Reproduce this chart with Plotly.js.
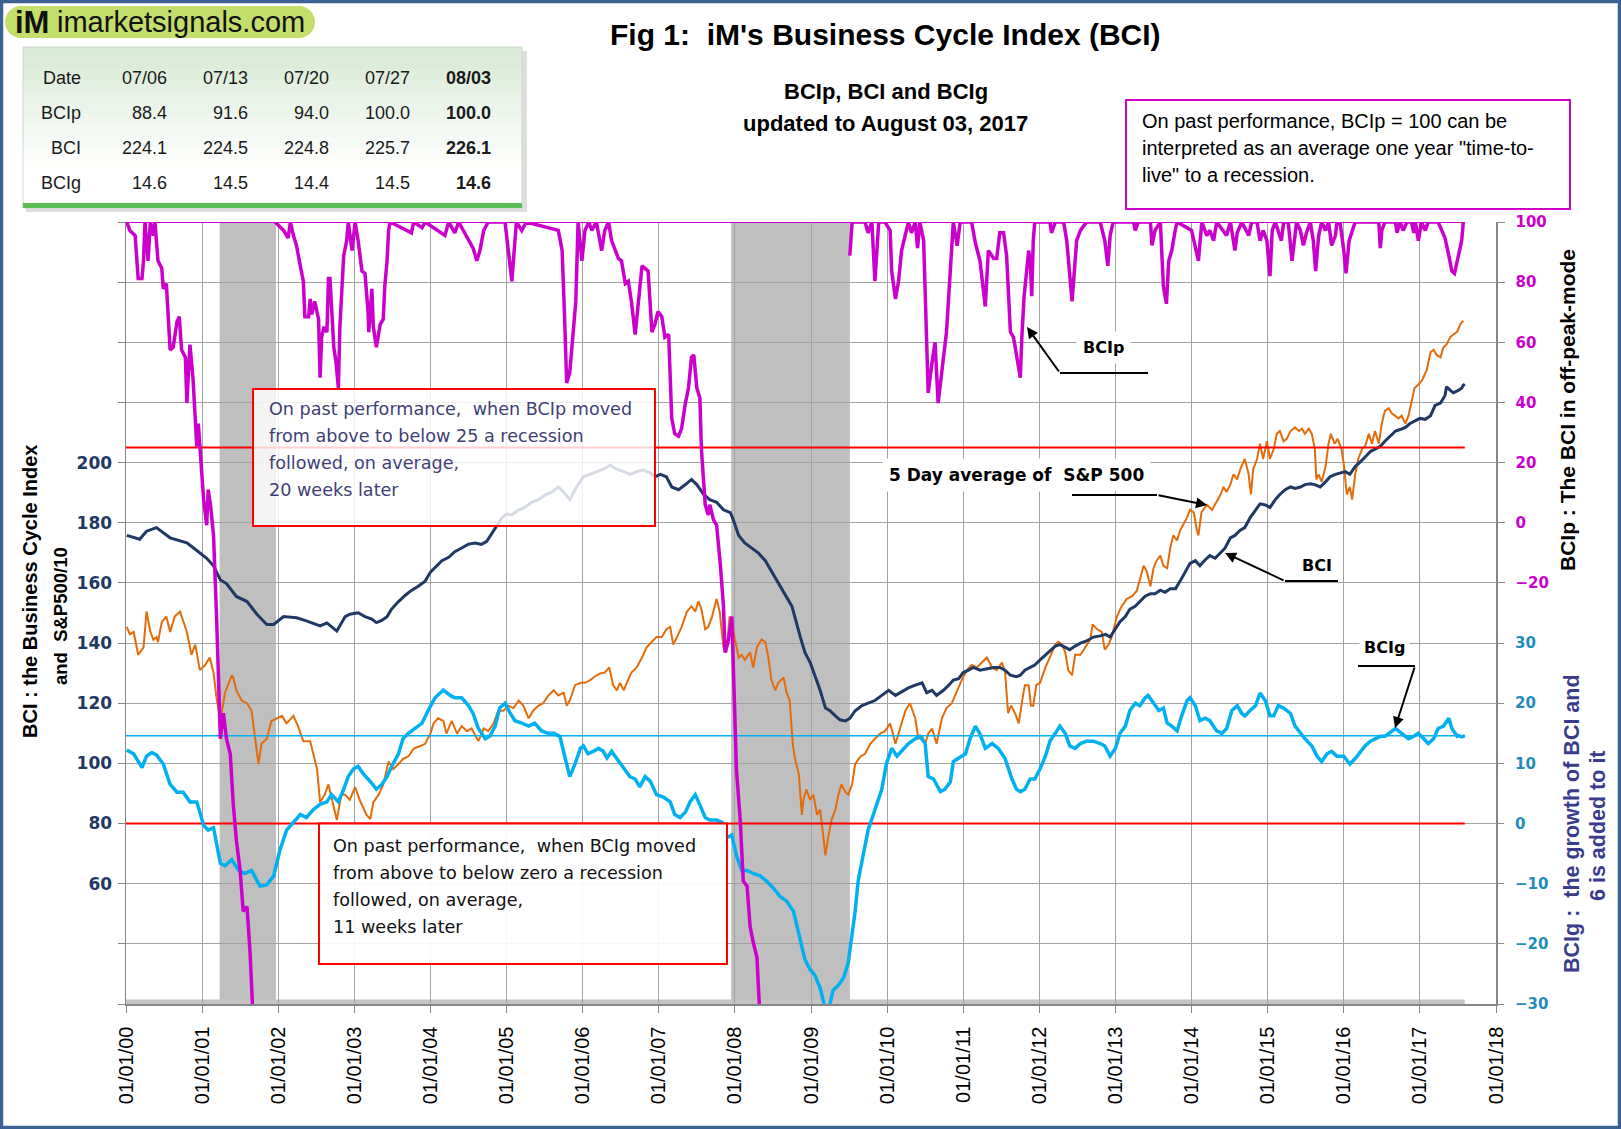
<!DOCTYPE html>
<html>
<head>
<meta charset="utf-8">
<script src="https://cdn.plot.ly/plotly-3.0.1.min.js"></script>
<style>
html,body{margin:0;padding:0;background:#ffffff;}
#chart{width:1621px;height:1129px;}
</style>
</head>
<body>
<div id="chart"></div>
<script>
// ---------------- DATA (decimal years) ----------------
const bciX = [
2000.01,2000.18,2000.27,2000.40,2000.58,2000.80,2000.93,2001.06,2001.15,2001.24,2001.32,2001.45,2001.59,2001.72,2001.85,2001.94,2002.07,2002.24,2002.37,2002.55,2002.64,2002.77,
2002.88,2002.94,2003.05,2003.14,2003.23,2003.29,2003.36,2003.43,2003.49,2003.58,2003.67,2003.75,2003.84,2003.93,2004.00,2004.06,2004.15,2004.24,2004.32,2004.41,2004.50,2004.59,2004.67,2004.74,2004.81,2004.87,2004.94,2005.00,2005.07,2005.16,2005.24,2005.33,2005.42,2005.51,2005.59,2005.68,2005.75,
2005.83,2005.92,2006.01,2006.10,2006.18,2006.27,2006.36,2006.45,2006.54,2006.62,2006.71,2006.80,2006.89,2006.95,2007.02,2007.10,2007.17,2007.26,2007.35,2007.43,2007.50,2007.59,2007.67,2007.76,2007.85,2007.94,2007.98,2008.05,2008.13,2008.22,2008.31,2008.40,2008.48,2008.57,2008.66,2008.75,
2008.86,2008.92,2008.99,2009.05,2009.12,2009.19,2009.25,2009.32,2009.38,2009.45,2009.51,2009.58,2009.67,2009.75,2009.84,2009.93,2010.02,2010.11,2010.19,2010.28,2010.37,2010.46,2010.52,2010.59,2010.65,2010.74,2010.81,2010.87,2010.94,2011.00,2011.07,2011.13,2011.22,2011.31,2011.40,2011.48,2011.55,2011.62,2011.70,
2011.75,2011.81,2011.88,2011.94,2012.01,2012.08,2012.14,2012.21,2012.27,2012.34,2012.40,2012.47,2012.54,2012.62,2012.71,2012.80,2012.87,2012.93,2013.00,2013.06,2013.13,2013.19,2013.26,2013.32,2013.39,2013.46,2013.52,2013.59,2013.65,2013.72,2013.79,2013.85,2013.92,2013.98,2014.05,2014.11,2014.18,2014.24,2014.31,2014.38,2014.44,2014.51,2014.57,2014.64,
2014.70,2014.77,2014.84,2014.90,2014.97,2015.03,2015.10,2015.16,2015.23,2015.30,2015.36,2015.43,2015.49,2015.56,2015.62,2015.69,2015.76,2015.82,2015.89,2015.95,2016.02,2016.08,2016.15,2016.22,2016.28,2016.35,2016.41,2016.48,2016.54,2016.61,2016.68,2016.74,2016.81,2016.87,2016.94,2017.00,2017.07,2017.14,2017.20,2017.27,2017.33,2017.35,2017.40,2017.44,2017.51,2017.53,2017.55,2017.57,2017.59];
const bciY = [
175.8,174.5,177.2,178.4,175.0,173.3,170.8,168.2,165.7,161.0,159.8,155.5,153.8,149.6,146.2,146.2,148.8,148.4,147.4,145.7,146.7,144.0,
148.8,149.6,150.1,148.8,148.0,146.8,147.5,148.8,151.3,153.8,155.9,157.5,158.9,160.6,163.6,165.2,167.4,168.5,170.4,171.6,172.9,173.3,172.8,173.8,176.7,179.2,181.7,182.9,182.6,184.3,185.1,186.8,187.7,189.3,190.2,191.9,190.2,
187.7,191.9,195.3,196.1,197.0,197.8,199.1,197.8,197.0,196.1,197.0,197.5,196.5,195.3,196.1,195.3,191.9,191.0,192.7,194.4,192.7,189.4,187.7,186.8,184.3,183.4,180.9,175.8,173.3,171.6,169.9,167.4,164.0,159.8,156.4,152.2,
142.0,136.9,133.5,129.3,124.3,118.4,117.5,115.8,114.5,114.1,115.0,117.5,119.2,120.0,120.9,122.6,124.3,122.6,123.8,125.1,126.0,126.8,123.5,124.3,122.6,124.3,126.0,127.7,128.2,130.2,131.0,131.9,131.0,131.5,131.9,131.9,131.0,129.3,128.8,
129.3,131.0,131.9,132.7,134.4,136.1,137.3,139.0,139.5,138.6,137.8,139.0,140.0,140.7,142.0,142.4,142.9,142.0,144.6,147.1,148.8,151.3,152.2,153.9,155.6,156.4,156.4,157.6,156.9,158.1,158.1,160.6,164.0,166.5,167.4,165.7,167.7,169.1,168.2,169.9,171.6,175.0,175.8,177.5,
178.4,181.7,184.3,186.3,185.9,185.1,187.7,189.4,191.0,191.9,191.4,191.9,192.7,193.0,192.7,191.9,193.6,195.3,196.1,196.5,197.0,196.1,198.7,200.3,202.0,203.7,204.5,205.4,207.1,208.8,210.5,211.0,211.7,213.0,213.9,214.7,214.4,215.6,219.0,219.8,222.3,225.2,224.0,223.2,224.1,224.5,224.8,225.7,226.1];

const spX = [
2000.01,2000.05,2000.10,2000.16,2000.23,2000.27,2000.32,2000.36,2000.40,2000.42,2000.47,2000.53,2000.58,2000.64,2000.71,2000.80,2000.86,2000.91,2000.97,2001.04,2001.10,2001.15,2001.19,2001.24,2001.30,2001.39,2001.41,2001.45,2001.52,2001.59,2001.65,2001.70,2001.74,2001.78,2001.85,2001.91,2001.98,2002.05,2002.11,2002.20,2002.26,2002.33,2002.42,2002.51,2002.55,2002.61,2002.66,2002.73,2002.77,2002.83,
2002.88,2002.94,2003.01,2003.07,2003.12,2003.16,2003.21,2003.25,2003.32,2003.38,2003.45,2003.51,2003.58,2003.64,2003.71,2003.78,2003.86,2003.93,2004.00,2004.04,2004.10,2004.17,2004.21,2004.28,2004.35,2004.41,2004.48,2004.54,2004.63,2004.70,2004.76,2004.83,2004.89,2004.96,2005.02,2005.09,2005.16,2005.22,2005.29,2005.35,2005.42,2005.48,2005.55,2005.62,2005.68,2005.75,2005.79,
2005.83,2005.90,2005.97,2006.03,2006.10,2006.16,2006.23,2006.29,2006.35,2006.40,2006.45,2006.49,2006.54,2006.58,2006.64,2006.71,2006.78,2006.84,2006.91,2006.97,2007.04,2007.10,2007.15,2007.19,2007.24,2007.30,2007.37,2007.43,2007.48,2007.52,2007.56,2007.61,2007.65,2007.70,2007.76,2007.80,2007.85,2007.89,2007.93,2007.96,2008.00,2008.05,2008.09,2008.13,2008.20,2008.24,2008.29,2008.35,2008.40,2008.44,2008.48,2008.53,2008.57,2008.64,2008.68,2008.72,2008.76,
2008.79,2008.84,2008.88,2008.90,2008.94,2008.99,2009.03,2009.08,2009.12,2009.16,2009.19,2009.23,2009.27,2009.32,2009.36,2009.40,2009.45,2009.49,2009.54,2009.58,2009.65,2009.71,2009.78,2009.84,2009.91,2009.97,2010.04,2010.11,2010.17,2010.24,2010.30,2010.37,2010.41,2010.46,2010.50,2010.54,2010.59,2010.65,2010.72,2010.78,2010.85,2010.92,2010.98,2011.05,2011.11,2011.18,2011.24,2011.31,2011.38,2011.44,2011.51,2011.55,2011.59,2011.63,2011.68,2011.73,
2011.78,2011.81,2011.86,2011.89,2011.92,2011.96,2012.01,2012.08,2012.14,2012.21,2012.25,2012.30,2012.34,2012.38,2012.43,2012.47,2012.54,2012.60,2012.67,2012.70,2012.76,2012.82,2012.86,2012.91,2012.95,2013.02,2013.08,2013.15,2013.22,2013.28,2013.33,2013.37,2013.41,2013.46,2013.50,2013.54,2013.59,2013.63,2013.68,2013.72,2013.76,2013.81,2013.85,2013.89,2013.94,2013.98,2014.03,2014.07,2014.09,2014.13,2014.20,2014.27,2014.33,2014.38,2014.42,2014.46,2014.51,2014.55,2014.60,2014.64,
2014.70,2014.75,2014.78,2014.81,2014.86,2014.90,2014.94,2014.99,2015.03,2015.08,2015.12,2015.16,2015.21,2015.25,2015.30,2015.36,2015.41,2015.45,2015.49,2015.54,2015.58,2015.62,2015.64,2015.67,2015.71,2015.76,2015.80,2015.83,2015.88,2015.92,2015.97,2016.00,2016.04,2016.08,2016.11,2016.15,2016.19,2016.24,2016.28,2016.33,2016.37,2016.41,2016.46,2016.50,2016.54,2016.59,2016.63,2016.68,2016.72,2016.76,2016.81,2016.85,2016.89,2016.93,2016.97,2017.03,2017.09,2017.14,2017.18,2017.22,2017.27,2017.31,2017.35,2017.40,2017.44,2017.49,2017.53,2017.57];
const spY = [
145.4,142.9,143.7,136.1,138.6,150.5,143.7,141.1,142.0,140.3,147.0,148.8,143.7,148.8,150.5,143.7,136.1,139.5,131.0,132.7,135.2,130.2,121.7,114.1,123.4,129.3,128.5,124.3,120.9,120.0,117.5,108.2,99.8,106.5,108.2,114.1,115.0,115.8,113.3,115.8,112.4,107.4,107.4,98.1,87.1,89.6,93.0,85.4,81.2,89.6,
89.6,87.9,92.1,87.9,85.4,82.9,81.5,87.1,89.6,93.0,100.6,98.1,99.8,101.5,102.3,104.9,105.7,106.5,109.9,113.3,115.0,114.1,109.9,114.1,109.9,112.4,110.7,111.6,107.4,111.6,110.7,113.3,117.5,117.5,119.2,118.4,120.9,119.2,115.0,117.5,119.2,120.0,122.6,124.3,122.6,123.5,119.2,
120.9,126.0,126.8,126.8,127.7,128.9,129.9,130.2,131.9,126.0,124.3,126.8,124.3,126.8,130.2,131.9,135.2,138.6,140.3,142.0,142.0,144.6,145.4,139.5,142.0,145.4,150.5,152.2,150.5,153.9,151.3,144.6,145.4,148.8,154.7,150.5,138.6,136.9,148.8,148.0,141.2,135.2,136.1,134.4,136.9,131.9,138.6,141.2,140.3,135.2,127.7,124.3,126.8,128.5,123.5,120.9,106.5,
101.5,96.4,82.9,87.9,91.3,87.9,89.6,82.9,84.6,76.1,69.4,76.1,81.2,84.6,89.6,93.0,90.5,89.6,93.0,99.8,102.3,103.2,106.5,108.2,109.9,110.7,113.3,106.5,111.6,117.5,120.0,115.0,108.2,109.1,106.5,109.9,111.6,106.5,115.0,118.4,120.0,124.3,127.7,131.0,132.7,131.9,133.5,135.2,131.9,131.0,133.5,130.2,116.7,119.2,116.7,113.3,
121.7,126.0,126.0,119.2,119.2,126.0,126.8,131.9,135.3,139.5,140.4,139.5,137.0,131.0,129.3,136.1,136.1,138.6,141.2,146.2,144.6,143.7,137.8,139.5,142.0,148.8,152.2,154.7,155.6,157.3,162.3,165.7,164.0,158.9,164.9,167.4,169.1,165.7,164.9,171.6,175.8,174.1,177.5,179.2,181.7,184.3,183.4,177.5,175.8,183.4,186.0,184.3,186.8,189.3,191.9,190.2,192.7,196.1,194.4,197.8,
201.2,196.1,189.4,197.8,201.2,206.3,201.2,207.1,201.2,204.5,209.6,210.5,207.1,207.9,210.5,211.7,210.5,211.3,209.6,211.3,209.6,204.5,194.4,196.1,193.6,198.6,206.3,209.6,206.3,207.9,204.5,199.5,189.4,191.9,187.7,196.1,201.2,204.5,205.4,209.6,206.3,210.5,206.3,213.0,217.2,218.1,216.4,215.6,214.7,215.6,213.0,215.6,220.6,224.8,225.7,227.4,230.8,236.7,237.5,235.8,235.0,238.4,239.2,241.8,242.6,243.5,246.0,247.2];

const bcigX = [
2000.01,2000.10,2000.21,2000.27,2000.34,2000.40,2000.49,2000.58,2000.67,2000.75,2000.84,2000.93,2001.02,2001.08,2001.15,2001.24,2001.30,2001.39,2001.48,2001.56,2001.65,2001.76,2001.85,2001.94,2002.02,2002.11,2002.20,2002.29,2002.37,2002.46,2002.55,2002.64,2002.70,2002.79,2002.86,
2002.92,2002.99,2003.05,2003.12,2003.21,2003.29,2003.36,2003.43,2003.49,2003.58,2003.64,2003.71,2003.80,2003.89,2003.97,2004.06,2004.17,2004.26,2004.32,2004.41,2004.50,2004.56,2004.63,2004.72,2004.78,2004.85,2004.91,2004.98,2005.05,2005.11,2005.20,2005.29,2005.37,2005.46,2005.55,2005.62,2005.70,2005.77,2005.83,
2005.90,2005.97,2006.01,2006.07,2006.14,2006.21,2006.27,2006.32,2006.38,2006.45,2006.54,2006.62,2006.69,2006.75,2006.82,2006.89,2006.97,2007.06,2007.15,2007.21,2007.28,2007.35,2007.41,2007.48,2007.54,2007.61,2007.67,2007.76,2007.83,2007.89,2007.96,2008.02,2008.09,2008.16,2008.24,2008.33,2008.42,2008.51,2008.59,2008.68,2008.77,
2008.86,2008.92,2008.99,2009.05,2009.12,2009.19,2009.23,2009.29,2009.36,2009.43,2009.49,2009.54,2009.58,2009.62,2009.69,2009.75,2009.84,2009.93,2009.99,2010.06,2010.13,2010.19,2010.28,2010.37,2010.43,2010.50,2010.54,2010.61,2010.70,2010.76,2010.83,2010.87,2010.94,2011.03,2011.09,2011.16,2011.22,2011.29,2011.38,2011.46,2011.55,2011.64,2011.70,
2011.75,2011.81,2011.88,2011.94,2012.01,2012.08,2012.14,2012.21,2012.27,2012.34,2012.40,2012.47,2012.54,2012.62,2012.71,2012.80,2012.86,2012.93,2013.00,2013.06,2013.13,2013.19,2013.26,2013.32,2013.39,2013.43,2013.50,2013.57,2013.63,2013.68,2013.74,2013.81,2013.87,2013.94,2013.98,2014.05,2014.11,2014.18,2014.24,2014.33,2014.40,2014.46,2014.53,2014.60,2014.66,
2014.70,2014.77,2014.84,2014.90,2014.97,2015.03,2015.08,2015.14,2015.21,2015.25,2015.30,2015.36,2015.43,2015.49,2015.58,2015.65,2015.71,2015.78,2015.84,2015.91,2016.00,2016.08,2016.15,2016.22,2016.28,2016.35,2016.41,2016.48,2016.54,2016.61,2016.68,2016.76,2016.85,2016.92,2016.98,2017.05,2017.11,2017.18,2017.24,2017.31,2017.38,2017.42,2017.49,2017.51,2017.53,2017.55,2017.57,2017.59];
const bcigY = [
12.2,11.6,9.3,11.2,11.8,11.4,9.9,6.5,5.2,5.2,3.6,3.6,-0.3,-1.1,-0.7,-6.6,-7.0,-6.0,-7.8,-8.3,-7.8,-10.4,-10.2,-8.7,-4.5,-1.1,0.2,1.5,1.0,2.3,3.2,3.6,4.8,3.6,5.7,
7.8,9.1,9.5,8.2,7.0,5.7,6.5,7.8,9.5,11.6,14.1,15.0,15.8,16.7,18.8,20.9,22.2,21.3,20.9,20.9,19.6,18.3,15.8,14.1,14.5,16.2,19.2,20.0,18.3,17.1,16.7,16.2,16.7,15.4,15.0,15.0,14.5,10.8,7.8,
9.9,12.5,12.9,11.6,12.0,12.5,12.0,10.9,12.0,10.8,9.1,7.8,7.4,6.1,7.8,7.0,4.8,4.4,3.6,1.5,1.0,1.9,3.6,4.8,3.1,1.0,0.6,0.6,0.2,-2.4,-1.9,-5.3,-7.8,-7.8,-8.3,-8.7,-9.6,-10.8,-12.1,-12.9,-14.6,
-19.7,-22.6,-24.3,-25.2,-27.3,-31,-31,-27.7,-26.9,-25.6,-23.1,-18.8,-14.6,-9.5,-5.3,-1.1,2.3,5.7,9.9,12.5,11.2,12.0,13.3,14.1,14.5,13.3,7.8,7.4,5.3,5.7,6.9,10.3,10.8,11.6,14.1,16.2,14.9,12.5,13.3,12.5,10.8,7.4,5.7,
5.3,5.7,7.4,7.4,9.1,11.2,13.7,15.0,16.2,15.0,12.9,12.5,13.3,13.7,13.7,13.3,12.9,11.2,12.5,15.0,16.2,18.8,20.0,19.6,20.9,21.3,20.0,18.8,19.2,16.7,16.2,15.4,17.9,20.4,20.9,19.6,17.1,17.5,17.1,15.4,15.0,15.8,18.8,19.6,18.3,
17.9,18.8,19.6,21.7,20.4,17.9,17.9,19.6,19.2,18.8,18.3,16.2,15.0,14.1,12.9,11.2,10.3,11.6,12.0,11.2,11.2,9.9,10.8,12.0,12.9,13.7,14.1,14.5,14.5,15.1,15.8,15.0,14.1,14.5,15.0,14.1,13.3,14.1,15.8,16.2,17.5,15.8,14.5,14.6,14.5,14.4,14.5,14.6];

const bcipX = [
2000.01,2000.05,2000.12,2000.16,2000.21,2000.23,2000.25,2000.29,2000.32,2000.36,2000.38,2000.42,2000.47,2000.49,2000.53,2000.58,2000.62,2000.67,2000.70,2000.73,2000.78,2000.80,2000.82,2000.84,2000.88,2000.93,2000.95,2000.97,2001.02,2001.06,2001.08,2001.11,2001.15,2001.19,2001.24,2001.28,2001.32,2001.37,2001.41,2001.45,2001.50,2001.54,2001.59,2001.63,2001.67,2001.80,
2001.96,2002.07,2002.13,2002.16,2002.20,2002.24,2002.29,2002.33,2002.35,2002.40,2002.42,2002.44,2002.48,2002.53,2002.55,2002.57,2002.60,2002.64,2002.66,2002.68,2002.73,2002.76,2002.79,2002.81,2002.86,2002.90,
2002.92,2002.97,2003.01,2003.05,2003.10,2003.14,2003.18,2003.19,2003.23,2003.25,2003.29,2003.34,2003.38,2003.40,2003.43,2003.45,2003.47,2003.75,2003.78,2003.89,2003.93,2004.19,2004.24,2004.32,2004.37,2004.56,2004.61,2004.65,2004.70,2004.76,2004.98,2005.02,2005.07,2005.11,2005.13,2005.20,2005.26,2005.68,2005.73,2005.76,2005.79,
2005.83,2005.88,2005.91,2005.94,2005.99,2006.03,2006.08,2006.12,2006.18,2006.25,2006.29,2006.34,2006.38,2006.43,2006.47,2006.51,2006.56,2006.60,2006.64,2006.69,2006.73,2006.78,2006.82,2006.86,2006.91,2006.95,2006.99,2007.04,2007.08,2007.13,2007.17,2007.21,2007.26,2007.30,2007.35,2007.39,2007.43,2007.46,2007.50,2007.54,2007.56,2007.61,2007.65,2007.67,2007.72,2007.76,2007.81,2007.85,2007.87,2007.91,2007.96,2007.98,2008.02,2008.07,2008.11,2008.16,2008.20,2008.24,2008.29,2008.33,2008.90,
2009.51,2009.54,2009.71,2009.75,2009.80,2009.84,2009.89,2009.97,2010.04,2010.06,2010.11,2010.15,2010.19,2010.24,2010.28,2010.32,2010.37,2010.40,2010.43,2010.48,2010.52,2010.54,2010.59,2010.63,2010.67,2010.70,2010.74,2010.78,2010.83,2010.87,2010.92,2010.96,2011.11,2011.16,2011.22,2011.29,2011.33,2011.40,2011.44,2011.48,2011.53,2011.57,2011.62,2011.66,2011.70,
2011.75,2011.77,2011.80,2011.84,2011.86,2011.88,2011.90,2011.92,2011.94,2012.14,2012.16,2012.21,2012.32,2012.36,2012.40,2012.43,2012.45,2012.49,2012.54,2012.62,2012.80,2012.86,2012.90,2012.93,2012.97,2013.24,2013.26,2013.30,2013.46,2013.48,2013.52,2013.59,2013.63,2013.67,2013.70,2013.74,2013.785,2013.81,2014.00,2014.05,2014.09,2014.135,2014.20,2014.24,2014.29,2014.33,2014.46,2014.51,2014.57,2014.60,2014.66,
2014.75,2014.79,2014.86,2014.90,2014.94,2014.99,2015.03,2015.06,2015.10,2015.14,2015.18,2015.21,2015.27,2015.32,2015.35,2015.38,2015.43,2015.47,2015.51,2015.56,2015.60,2015.63,2015.67,2015.71,2015.76,2015.80,2015.84,2015.89,2015.91,2015.95,2016.00,2016.03,2016.07,2016.11,2016.15,2016.46,2016.48,2016.50,2016.54,2016.68,2016.70,2016.74,2016.78,2016.83,2016.89,2016.92,2016.94,2016.98,2017.02,2017.07,2017.11,2017.24,2017.29,2017.33,2017.38,2017.42,2017.455,2017.495,2017.51,2017.53,2017.55,2017.57,2017.59];
const bcipY = [
100,97.2,95.5,81.2,81.2,87.1,100,87.1,100,95.5,100,87.1,84.6,77.8,79.5,57.5,58.4,66.8,68.5,57.5,55.0,39.8,49.9,59.2,48.2,25.4,33.0,24.6,7.7,-0.8,11.0,5.9,-4.2,-31.2,-71.8,-63.3,-71.8,-76.9,-93.8,-105.6,-115.7,-129.2,-127.6,-142.8,-165,null,
100,97.2,94.7,100,95.5,92.2,85.4,80.3,68.5,68.5,74.4,69.3,73.6,67.7,48.2,61.7,65.1,63.4,81.2,81.2,58.4,53.3,44.8,65.1,88.8,93.8,
100,90.5,100,93.8,83.7,82.9,70.2,63.4,77.8,65.1,58.4,66.0,67.7,78.6,87.1,97.2,100,96.4,100,98.1,100,95.5,100,96.4,100,91.3,87.1,90.5,97.2,100,100,90.5,80.3,93.8,100,97.2,100,97.2,90.5,70.2,46.5,
49.9,66.8,73.6,100,87.1,97.2,100,97.2,100,90.5,97.2,100,93.8,90.5,87.9,87.1,79.5,80.3,73.6,62.6,73.6,85.4,84.6,83.7,63.4,66.0,70.2,68.5,61.7,62.6,34.7,29.6,28.8,31.3,39.8,44.8,55.0,55.8,44.8,41.5,24.6,6.0,2.6,6.0,0.9,-0.8,-14.3,-27.8,-43.1,-39.7,-31.2,-48.1,-81.9,-98.8,-119.1,-120.8,-134.3,-139.4,-144.5,-165,null,
88.8,100,100,96.4,100,80.3,100,100,97.2,83.7,74.4,80.3,90.5,96.4,100,96.4,100,91.3,100,93.8,58.4,43.2,53.3,60.0,39.8,46.5,53.3,63.4,83.7,100,92.1,100,100,93.0,87.1,71.9,90.5,87.9,87.9,96.4,96.4,88.8,63.4,61.7,55.8,
48.2,61.7,75.3,85.4,90.5,87.1,75.3,93.8,100,100,96.4,100,100,93.8,82.0,73.6,80.3,93.8,97.2,100,100,93.8,85.4,95.5,100,100,97.2,100,100,92.2,97.2,100,78.6,72.8,87.1,90.5,97.2,100,97.2,92.2,87.1,100,95.5,97.2,93.8,100,95.5,100,90.5,96.4,100,
95.5,100,100,93.8,97.2,93.8,82.0,97.2,100,97.2,93.8,100,100,87.1,93.8,100,97.2,92.2,96.4,100,93.8,83.7,95.5,100,97.2,100,92.2,95.5,100,100,90.5,82.9,93.8,97.2,100,100,91.3,97.2,100,100,96.4,100,97.2,100,100,96.4,100,93.8,100,97.2,100,100,97.2,94.7,88.8,83.7,82.9,87.1,88.4,91.6,94.0,100,100];

// recessions (start / end, decimal years)
const recStart = [2001.23, 2007.95];
const recEnd   = [2001.97, 2009.51];

// signal / reference levels
const bcipSignal = 25;     // BCIp recession threshold
const bcipMax = 100;       // BCIp ceiling
const bcigSignal = 0;      // BCIg recession threshold

// table
const tableDates = ['07/06','07/13','07/20','07/27','08/03'];
const tableBCIp  = [88.4, 91.6, 94.0, 100.0, 100.0];
const tableBCI   = [224.1, 224.5, 224.8, 225.7, 226.1];
const tableBCIg  = [14.6, 14.5, 14.4, 14.5, 14.6];

// ticks
const xTickVals = [2000,2001,2002,2003,2004,2005,2006,2007,2008,2009,2010,2011,2012,2013,2014,2015,2016,2017,2018];
const xTickText = ['01/01/00','01/01/01','01/01/02','01/01/03','01/01/04','01/01/05','01/01/06','01/01/07','01/01/08','01/01/09','01/01/10','01/01/11','01/01/12','01/01/13','01/01/14','01/01/15','01/01/16','01/01/17','01/01/18'];
const bciTickVals = [20,40,60,80,100,120,140,160,180,200,220,240,260,280];
const bciTickText = ['','','60','80','100','120','140','160','180','200','','','',''];
const bcipTickVals = [-20,0,20,40,60,80,100];
const bcigTickVals = [-30,-20,-10,0,10,20,30];

// ---------------- LAYOUT HELPERS ----------------
const figW = 1621, figH = 1129;
const PL = 126, PR = 1496, PT = 222, PB = 1004;
const fx = p => (p - PL) / (PR - PL);
const fy = p => (PB - p) / (PB - PT);
const NARROW = "Liberation Sans Narrow, Arial Narrow, sans-serif";
const SANS = "Liberation Sans, Arial, sans-serif";
const DEJA = "DejaVu Sans, Verdana, sans-serif";

const xFirst = xTickVals[0];
const xLast = bciX[bciX.length - 1];
const bcigNow = bcigY[bcigY.length - 1];

function txt(x, y, text, opts) {
  return Object.assign({xref:'paper', yref:'paper', x: fx(x), y: fy(y), text: text,
    showarrow:false, xanchor:'center', yanchor:'middle'}, opts || {});
}
function rectPx(x0, y0, x1, y1, opts) {
  return Object.assign({type:'rect', xref:'paper', yref:'paper', x0: fx(x0), x1: fx(x1), y0: fy(y0), y1: fy(y1), layer:'above'}, opts || {});
}
function linePx(x0, y0, x1, y1, opts) {
  return Object.assign({type:'line', xref:'paper', yref:'paper', x0: fx(x0), x1: fx(x1), y0: fy(y0), y1: fy(y1), layer:'above',
    line:{color:'#000', width:2}}, opts || {});
}
function arrowPx(tipX, tipY, tailX, tailY) {
  return {xref:'paper', yref:'paper', x: fx(tipX), y: fy(tipY), ax: tailX - tipX, ay: tailY - tipY,
    text:'', showarrow:true, arrowhead:2, arrowsize:1.1, arrowwidth:2, arrowcolor:'#000', standoff:0};
}

// ---------------- TRACES ----------------
const traces = [
  {x: spX, y: spY, type:'scatter', mode:'lines', yaxis:'y', line:{color:'#E46C0A', width:2}},
  {x: bciX, y: bciY, type:'scatter', mode:'lines', yaxis:'y', line:{color:'#1F3864', width:3}},
  {x: [xFirst, xLast], y: [bcigSignal, bcigSignal], type:'scatter', mode:'lines', yaxis:'y2', line:{color:'#FF0000', width:2}},
  {x: [xFirst, xLast], y: [bcigNow, bcigNow], type:'scatter', mode:'lines', yaxis:'y2', line:{color:'#00B0F0', width:1.5}},
  {x: bcigX, y: bcigY, type:'scatter', mode:'lines', yaxis:'y2', line:{color:'#00B0F0', width:3.5}},
  {x: [xFirst, xLast], y: [bcipSignal, bcipSignal], type:'scatter', mode:'lines', yaxis:'y3', line:{color:'#FF0000', width:2}},
  {x: [xFirst, xLast], y: [bcipMax, bcipMax], type:'scatter', mode:'lines', yaxis:'y3', line:{color:'#CC00CC', width:2}},
  {x: bcipX, y: bcipY, type:'scatter', mode:'lines', yaxis:'y3', connectgaps:false, line:{color:'#CC00CC', width:3.5}}
];

// ---------------- SHAPES ----------------
const shapes = [];
for (let i = 0; i < recStart.length; i++) {
  shapes.push({type:'rect', xref:'x', yref:'paper', x0: recStart[i], x1: recEnd[i], y0: 0, y1: 1,
    fillcolor:'#BFBFBF', line:{width:0}, layer:'between'});
}
shapes.push({type:'line', xref:'x', yref:'paper', x0: xFirst, x1: xLast, y0: fy(1002), y1: fy(1002),
  line:{color:'#C4C4C4', width:5}, layer:'between'});

// annotation boxes
shapes.push(rectPx(253, 389, 655, 526, {fillcolor:'rgba(255,255,255,0.82)', line:{color:'#FF0000', width:2}}));
shapes.push(rectPx(319, 823.5, 727, 964, {fillcolor:'rgba(255,255,255,0.92)', line:{color:'#FF0000', width:2}}));
shapes.push(rectPx(1126, 100, 1570, 209, {fillcolor:'#FFFFFF', line:{color:'#CC00CC', width:2}}));

// table box with gradient
shapes.push(rectPx(26, 51, 527, 212, {fillcolor:'rgba(0,0,0,0.13)', line:{width:0}}));
const bands = 14;
const tTop = 47, tBot = 203;
for (let i = 0; i < bands; i++) {
  const t = i / (bands - 1);
  const g = Math.min(1, t * 1.25);
  const r = Math.round(217 + (255 - 217) * g), gg = Math.round(234 + (255 - 234) * g), b = Math.round(214 + (255 - 214) * g);
  const y0 = tTop + (tBot - tTop) * i / bands, y1 = tTop + (tBot - tTop) * (i + 1) / bands;
  shapes.push(rectPx(23, y0, 522, y1 + 0.5, {fillcolor:`rgb(${r},${gg},${b})`, line:{width:0}}));
}
shapes.push(rectPx(23, tTop, 522, 208, {fillcolor:'rgba(0,0,0,0)', line:{color:'#C9D9C6', width:1}}));
shapes.push(rectPx(23, 203, 522, 208, {fillcolor:'#5CBF55', line:{width:0}}));

// logo pill
shapes.push(rectPx(21, 6, 299, 38, {fillcolor:'#C4DE6B', line:{width:0}}));
shapes.push({type:'circle', xref:'paper', yref:'paper', x0: fx(5), x1: fx(37), y0: fy(38), y1: fy(6), fillcolor:'#C4DE6B', line:{width:0}, layer:'above'});
shapes.push({type:'circle', xref:'paper', yref:'paper', x0: fx(283), x1: fx(315), y0: fy(38), y1: fy(6), fillcolor:'#C4DE6B', line:{width:0}, layer:'above'});

// arrow horizontal legs
shapes.push(linePx(1060, 373, 1148, 373));
shapes.push(linePx(1072, 495, 1157, 495));
shapes.push(linePx(1285, 581, 1338, 581));
shapes.push(linePx(1358, 666, 1415, 666));

// outer frame
shapes.push(rectPx(1.5, 1.5, figW - 1.5, figH - 1.5, {fillcolor:'rgba(0,0,0,0)', line:{color:'#3A6393', width:3.5}}));

// ---------------- ANNOTATIONS ----------------
const ann = [];
// logo
ann.push(txt(13, 22, '<b>iM</b>', {xanchor:'left', font:{family:NARROW, size:31, color:'#111'}}));
ann.push(txt(55, 22, 'imarketsignals.com', {xanchor:'left', font:{family:SANS, size:29, color:'#111'}}));
// title
ann.push(txt(885, 34, "<b>Fig 1:\u00A0 iM's Business Cycle Index (BCI)</b>", {font:{family:NARROW, size:30, color:'#000'}}));
ann.push(txt(886, 92, '<b>BCIp, BCI and BCIg</b>', {font:{family:NARROW, size:22, color:'#000'}}));
ann.push(txt(885, 124, '<b>updated to August 03, 2017</b>', {font:{family:NARROW, size:22, color:'#000'}}));
// magenta box text
const magLines = ['On past performance, BCIp = 100 can be', 'interpreted as an average one year "time-to-', 'live" to a recession.'];
const magY = [121, 148, 175];
magLines.forEach((s, i) => ann.push(txt(1140, magY[i], s, {xanchor:'left', font:{family:NARROW, size:20, color:'#000'}})));
// table
const rowY = [78, 113, 148, 183];
const colR = [169, 250, 331, 412, 493];
const rowLabels = ['Date', 'BCIp', 'BCI', 'BCIg'];
const rows = [tableDates, tableBCIp.map(v => v.toFixed(1)), tableBCI.map(v => v.toFixed(1)), tableBCIg.map(v => v.toFixed(1))];
rowLabels.forEach((lab, r) => {
  ann.push(txt(83, rowY[r], lab, {xanchor:'right', font:{family:SANS, size:18, color:'#1a1a1a'}}));
  rows[r].forEach((v, c) => {
    const last = c === rows[r].length - 1;
    ann.push(txt(colR[c], rowY[r], last ? '<b>' + v + '</b>' : v, {xanchor:'right', font:{family:SANS, size:18, color:'#1a1a1a'}}));
  });
});
// red boxes text
const box1 = ['On past performance,\u00A0 when BCIp moved', 'from above to below 25 a recession', 'followed, on average,', '20 weeks later'];
const box1Y = [409, 436, 463, 490];
box1.forEach((s, i) => ann.push(txt(267, box1Y[i], s, {xanchor:'left', font:{family:DEJA, size:17.6, color:'#3F3F78'}})));
const box2 = ['On past performance,\u00A0 when BCIg moved', 'from above to below zero a recession', 'followed, on average,', '11 weeks later'];
const box2Y = [846, 873, 900, 927];
box2.forEach((s, i) => ann.push(txt(331, box2Y[i], s, {xanchor:'left', font:{family:DEJA, size:17.6, color:'#111'}})));
// series labels
ann.push(txt(1103, 347, '<b>BCIp</b>', {font:{family:DEJA, size:16, color:'#000'}, bgcolor:'#fff', borderpad:6}));
ann.push(txt(1017, 475, '<b>5 Day average of\u00A0 S&P 500</b>', {font:{family:DEJA, size:17, color:'#000'}, bgcolor:'#fff', borderpad:6}));
ann.push(txt(1317, 565, '<b>BCI</b>', {font:{family:DEJA, size:16, color:'#000'}, bgcolor:'#fff', borderpad:4}));
ann.push(txt(1384, 647, '<b>BCIg</b>', {font:{family:DEJA, size:16, color:'#000'}, bgcolor:'#fff', borderpad:4}));
// arrows
ann.push(arrowPx(1027, 327, 1060, 373));
ann.push(arrowPx(1207, 505, 1157, 495));
ann.push(arrowPx(1225, 553, 1285, 581));
ann.push(arrowPx(1395, 728, 1415, 666));
// axis titles
ann.push(txt(30, 591, '<b>BCI : the Business Cycle Index</b>', {textangle:-90, font:{family:NARROW, size:20, color:'#000'}}));
ann.push(txt(60, 616, '<b>and\u00A0 S&P500/10</b>', {textangle:-90, font:{family:NARROW, size:18.5, color:'#000'}}));
ann.push(txt(1567, 410, '<b>BCIp : The BCI in off-peak-mode</b>', {textangle:-90, font:{family:NARROW, size:21, color:'#000'}}));
ann.push(txt(1572, 824, '<b>BCIg :\u00A0 the growth of BCI and</b>', {textangle:-90, font:{family:NARROW, size:21.5, color:'#3B3B8E'}}));
ann.push(txt(1598, 826, '<b>6 is added to it</b>', {textangle:-90, font:{family:NARROW, size:21.5, color:'#3B3B8E'}}));

// ---------------- LAYOUT ----------------
const gridC = '#A3A3A3', axC = '#868686';
const layout = {
  width: figW, height: figH,
  margin: {l: PL, r: figW - PR, t: PT, b: figH - PB, pad: 0},
  paper_bgcolor:'#FFFFFF', plot_bgcolor:'#FFFFFF',
  showlegend:false, hovermode:false,
  xaxis: {range:[2000, 2018], tickmode:'array', tickvals:xTickVals, ticktext:xTickText, tickangle:-90,
    tickfont:{family:SANS, size:20, color:'#000'}, showgrid:true, gridcolor:gridC, gridwidth:1, zeroline:false,
    showline:true, linecolor:axC, linewidth:1.5, ticks:'outside', ticklen:7, tickcolor:axC, ticklabelstandoff:6, fixedrange:true},
  yaxis: {range:[20, 280], tickmode:'array', tickvals:bciTickVals, ticktext:bciTickText,
    tickfont:{family:DEJA, size:17, color:'#1F3864', weight:'bold'}, showgrid:true, gridcolor:gridC, gridwidth:1, zeroline:false,
    showline:true, linecolor:axC, linewidth:1.5, ticks:'outside', ticklen:7, tickcolor:axC, ticklabelstandoff:2, fixedrange:true},
  yaxis2: {overlaying:'y', side:'right', range:[-30, 100], tickmode:'array', tickvals:bcigTickVals,
    tickfont:{family:DEJA, size:15, color:'#1F8CBA', weight:'bold'}, showgrid:false, zeroline:false,
    showline:false, ticks:'outside', ticklen:7, tickcolor:axC, ticklabelstandoff:8, fixedrange:true},
  yaxis3: {overlaying:'y', side:'right', range:[-160, 100], tickmode:'array', tickvals:bcipTickVals,
    tickfont:{family:DEJA, size:15, color:'#CC00CC', weight:'bold'}, showgrid:false, zeroline:false,
    showline:true, linecolor:axC, linewidth:1.5, ticks:'outside', ticklen:7, tickcolor:axC, ticklabelstandoff:8, fixedrange:true},
  shapes: shapes,
  annotations: ann
};

Plotly.newPlot('chart', traces, layout, {displayModeBar:false, staticPlot:true});
</script>
</body>
</html>
